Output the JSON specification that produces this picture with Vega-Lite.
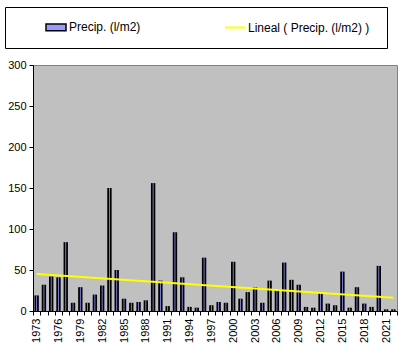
{
  "$schema": "https://vega.github.io/schema/vega-lite/v6.json",
  "width": 364,
  "height": 246,
  "autosize": {"type": "none"},
  "padding": {"left": 33, "top": 65, "right": 5, "bottom": 49},
  "background": "white",
  "config": {
    "view": {"stroke": "#808080", "fill": "#C0C0C0"},
    "font": "Liberation Sans"
  },
  "data": {
    "values": [
      {"year": 1973, "value": 19}, {"year": 1974, "value": 32}, {"year": 1975, "value": 42},
      {"year": 1976, "value": 41}, {"year": 1977, "value": 84}, {"year": 1978, "value": 10},
      {"year": 1979, "value": 29}, {"year": 1980, "value": 10}, {"year": 1981, "value": 20},
      {"year": 1982, "value": 31}, {"year": 1983, "value": 150}, {"year": 1984, "value": 50},
      {"year": 1985, "value": 15}, {"year": 1986, "value": 10}, {"year": 1987, "value": 11},
      {"year": 1988, "value": 13}, {"year": 1989, "value": 156}, {"year": 1990, "value": 37},
      {"year": 1991, "value": 6}, {"year": 1992, "value": 96}, {"year": 1993, "value": 41},
      {"year": 1994, "value": 5}, {"year": 1995, "value": 4}, {"year": 1996, "value": 65},
      {"year": 1997, "value": 7}, {"year": 1998, "value": 11}, {"year": 1999, "value": 10},
      {"year": 2000, "value": 60}, {"year": 2001, "value": 15}, {"year": 2002, "value": 23},
      {"year": 2003, "value": 29}, {"year": 2004, "value": 10}, {"year": 2005, "value": 37},
      {"year": 2006, "value": 26}, {"year": 2007, "value": 59}, {"year": 2008, "value": 38},
      {"year": 2009, "value": 32}, {"year": 2010, "value": 5}, {"year": 2011, "value": 4},
      {"year": 2012, "value": 22}, {"year": 2013, "value": 9}, {"year": 2014, "value": 7},
      {"year": 2015, "value": 48}, {"year": 2016, "value": 4}, {"year": 2017, "value": 29},
      {"year": 2018, "value": 9}, {"year": 2019, "value": 5}, {"year": 2020, "value": 55},
      {"year": 2021, "value": 2}, {"year": 2022, "value": 2}
    ]
  },
  "layer": [
    {
      "mark": {"type": "bar", "color": "black", "width": {"band": 0.6}},
      "encoding": {
        "x": {
          "field": "year", "type": "ordinal",
          "scale": {"paddingInner": 0, "paddingOuter": 0},
          "axis": {
            "title": null, "tickBand": "extent", "labelAngle": 270,
            "labelExpr": "(+datum.value - 1973) % 3 === 0 ? datum.value : ''",
            "labelFontSize": 11, "labelColor": "black", "labelFont": "Liberation Sans",
            "domainColor": "black", "tickColor": "black", "tickSize": 4,
            "labelPadding": 3, "labelOverlap": false, "grid": false
          }
        },
        "y": {
          "field": "value", "type": "quantitative",
          "scale": {"domain": [0, 300], "nice": false},
          "axis": {
            "values": [0, 25, 50, 75, 100, 125, 150, 175, 200, 225, 250, 275, 300],
            "title": null, "grid": false, "domainColor": "black", "tickColor": "black",
            "tickSize": 4, "labelFontSize": 11, "labelColor": "black",
            "labelFont": "Liberation Sans", "labelPadding": 3
          }
        }
      }
    },
    {
      "mark": {"type": "bar", "width": {"band": 0.11}},
      "encoding": {
        "x": {
          "field": "year", "type": "ordinal",
          "scale": {"paddingInner": 0, "paddingOuter": 0},
          "axis": null
        },
        "y": {"field": "value", "type": "quantitative"},
        "color": {
          "datum": "Precip.  (l/m2)", "type": "nominal",
          "scale": {"domain": ["Precip.  (l/m2)", "Lineal ( Precip.  (l/m2) )"], "range": ["#9999FF", "#FFFF00"]},
          "legend": {
            "orient": "none", "legendX": -28, "legendY": -58,
            "direction": "horizontal",
            "title": " ", "titleOrient": "left", "titlePadding": 31, "titleFontSize": 1,
            "strokeColor": "black", "fillColor": "white", "padding": 14,
            "symbolSize": 400, "labelFontSize": 12, "labelFont": "Liberation Sans",
            "labelColor": "black", "labelOffset": 7, "columnPadding": 27,
            "gridAlign": "all", "labelLimit": 300,
            "symbolType": {"expr": "datum.index === 0 ? 'M-1,-0.33H1V0.33H-1Z' : 'M-1,0H1'"},
            "symbolStrokeColor": {"expr": "datum.index === 0 ? 'black' : '#FFFF00'"},
            "symbolStrokeWidth": {"expr": "datum.index === 0 ? 1.5 : 2"}
          }
        }
      }
    },
    {
      "transform": [{"regression": "value", "on": "year"}],
      "mark": {"type": "line", "strokeWidth": 2, "color": "#FFFF00"},
      "encoding": {
        "x": {
          "field": "year", "type": "quantitative",
          "scale": {"domain": [1972.5, 2022.5], "nice": false, "zero": false},
          "axis": null
        },
        "y": {"field": "value", "type": "quantitative"}
      }
    }
  ],
  "resolve": {"scale": {"x": "independent"}}
}
